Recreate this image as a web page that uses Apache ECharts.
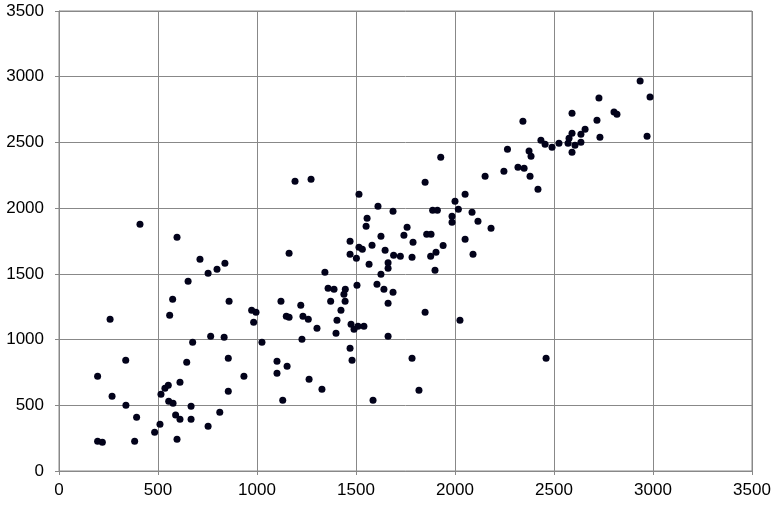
<!DOCTYPE html>
<html>
<head>
<meta charset="utf-8">
<script src="https://cdn.jsdelivr.net/npm/echarts@6/dist/echarts.min.js"></script>
<style>
  html, body { margin: 0; padding: 0; background: #fff; }
  #chart { width: 776px; height: 505px; }
</style>
</head>
<body>
<div id="chart"></div>
<script>
// axis ticks
var xTicks = [0, 500, 1000, 1500, 2000, 2500, 3000, 3500];
var yTicks = [0, 500, 1000, 1500, 2000, 2500, 3000, 3500];

// points, [x, y]
var lowPoints = [
  [195, 226], [219, 218], [195, 721], [258, 1154], [268, 568], [337, 842], [338, 500],
  [392, 409], [382, 226], [483, 294], [510, 355], [515, 584], [535, 629], [552, 652],
  [554, 530], [576, 515], [589, 426], [611, 393], [596, 241], [611, 675], [645, 827],
  [675, 979], [667, 492], [667, 393], [753, 340], [766, 1025], [834, 1017], [855, 857],
  [855, 606], [812, 447], [934, 721], [559, 1185], [574, 1307], [652, 1444], [712, 1611],
  [753, 1505], [798, 1535], [838, 1581], [859, 1291], [973, 1223], [995, 1208], [983, 1132],
  [409, 1877], [596, 1778]
];

var midPoints = [
  [1192, 2205], [1273, 2220], [1515, 2106], [1611, 2014], [1687, 1976], [1556, 1923],
  [1551, 1862], [1470, 1748], [1626, 1786], [1581, 1718], [1742, 1794], [1758, 1855],
  [1788, 1740], [1849, 2197], [1928, 2387], [1887, 1984], [1911, 1984], [2000, 2052],
  [2051, 2106], [2017, 1992], [1985, 1938], [1985, 1893], [2086, 1969], [2116, 1900],
  [2182, 1847], [2051, 1763], [1857, 1801], [1879, 1801], [1940, 1715], [2152, 2243],
  [2247, 2281], [2265, 2448],
  [1470, 1649], [1502, 1619], [1515, 1702], [1532, 1687], [1647, 1680], [1662, 1585],
  [1662, 1543], [1690, 1641], [1724, 1634], [1783, 1626], [1877, 1634], [1904, 1664],
  [1899, 1527], [2091, 1649], [1162, 1657], [1343, 1512], [1359, 1390], [1389, 1383],
  [1446, 1383], [1439, 1345], [1445, 1291], [1372, 1291], [1505, 1413], [1626, 1497],
  [1606, 1421], [1641, 1383], [1687, 1360], [1662, 1276], [1424, 1223], [1404, 1147],
  [1399, 1048], [1475, 1116], [1490, 1078], [1510, 1101], [1540, 1101], [1662, 1025],
  [1470, 934], [1480, 842], [1849, 1208], [2025, 1147], [1783, 858], [1818, 614],
  [1586, 538], [1121, 1291], [1221, 1261], [1148, 1177], [1162, 1170], [1232, 1177],
  [1259, 1154], [1303, 1086], [1227, 1002], [1025, 979], [1101, 835], [1101, 744],
  [1152, 797], [1263, 698], [1328, 622], [1130, 538], [1566, 1573]
];

var highPoints = [
  [2460, 858], [2935, 2968], [2985, 2846], [2970, 2547], [2727, 2838], [2803, 2732],
  [2818, 2715], [2591, 2722], [2717, 2669], [2732, 2540], [2657, 2601], [2636, 2563],
  [2636, 2502], [2591, 2570], [2576, 2532], [2571, 2494], [2606, 2479], [2591, 2425],
  [2525, 2494], [2490, 2464], [2455, 2486], [2434, 2517], [2343, 2661], [2374, 2435],
  [2384, 2395], [2318, 2311], [2349, 2304], [2379, 2243], [2419, 2144]
];

var allPoints = lowPoints.concat(midPoints, highPoints);

var myChart = echarts.init(document.getElementById("chart"));
var option;

// plain numbers, no thousands separator
function plain(v) {
  return String(v);
}

var labelStyle = {
  color: "#000",
  fontSize: 17,
  fontFamily: "Liberation Sans, Arial, sans-serif",
  formatter: plain,
};

option = {
  backgroundColor: "#fff",
  animation: false,
  grid: {
    left: 59,
    right: 24,
    top: 11,
    bottom: 34,
    show: true,
    borderColor: "#888",
    borderWidth: 1,
  },
  xAxis: {
    type: "value",
    min: xTicks[0],
    max: xTicks[xTicks.length - 1],
    interval: 500,
    axisLine: { show: true, lineStyle: { color: "#888" } },
    axisTick: { show: true, length: 4, lineStyle: { color: "#888" } },
    splitLine: { show: true, lineStyle: { color: "#888", width: 1 } },
    axisLabel: Object.assign({ margin: 11 }, labelStyle),
  },
  yAxis: {
    type: "value",
    min: yTicks[0],
    max: yTicks[yTicks.length - 1],
    interval: 500,
    axisLine: { show: true, lineStyle: { color: "#888" } },
    axisTick: { show: true, length: 4, lineStyle: { color: "#888" } },
    splitLine: { show: true, lineStyle: { color: "#888", width: 1 } },
    axisLabel: Object.assign({ margin: 15 }, labelStyle),
  },
  series: [
    {
      type: "scatter",
      symbol: "circle",
      symbolSize: 7,
      itemStyle: { color: "#02021a", opacity: 1 },
      data: allPoints,
    },
  ],
};

option && myChart.setOption(option);
</script>
</body>
</html>
